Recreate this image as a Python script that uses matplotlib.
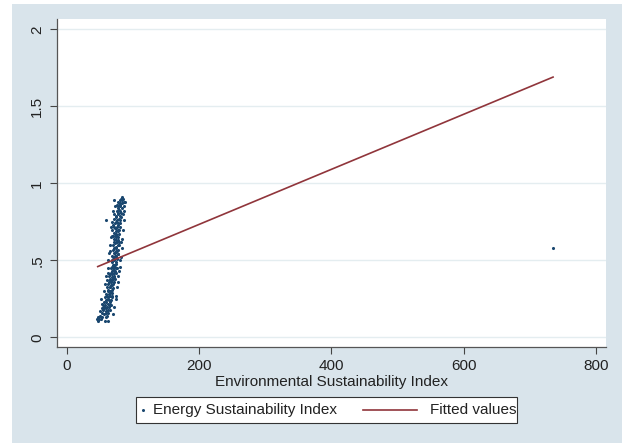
import matplotlib.pyplot as plt
from matplotlib.patches import Rectangle
from matplotlib.lines import Line2D

plt.rcParams['font.family'] = ['Liberation Sans', 'DejaVu Sans']

# scatter: Environmental Sustainability Index (x) vs Energy Sustainability Index (y)
esi_x = [47, 48, 49, 58, 62, 53, 55, 57, 59, 60, 61, 63, 64, 58, 62, 65, 60, 66, 63, 67,
         56, 61, 64, 68, 66, 62, 69, 65, 67, 70, 63, 68, 71, 66, 64, 69, 72, 67, 70, 73,
         68, 71, 74, 69, 72, 75, 70, 73, 76, 71, 74, 77, 72, 75, 78, 70, 73, 76, 79, 71,
         74, 77, 68, 72, 75, 78, 73, 76, 79, 70, 74, 77, 80, 72, 75, 78, 81, 76, 79, 82,
         77, 80, 83, 78, 81, 84, 85, 82, 86, 60,
         50, 52, 54, 57, 59, 61, 63, 65, 60, 64, 62, 66, 67, 65, 63, 68, 66, 69, 67, 70,
         65, 72, 68, 71, 69, 73, 70, 74, 72, 68, 75, 71, 73, 76, 70, 74, 77, 72, 75, 78,
         73, 76, 79, 74, 77, 80, 75, 78, 73, 76, 79, 74, 77, 80, 78, 81, 79, 83, 80, 84,
         76, 82, 81, 79, 78, 71, 69, 67, 66, 64, 61, 59, 57, 55, 53, 51, 46, 60, 58, 70,
         72, 74, 76, 75, 73, 70, 69, 67,
         54, 52, 56, 58, 60, 62, 63, 64, 66, 67, 68, 69, 71, 73, 72,
         70, 72, 74, 76, 78, 80, 82, 83, 84, 85, 86, 87, 88, 87, 85,
         75, 77, 79, 81, 82, 61, 63, 65, 67, 70,
         735]
ensi_y = [0.11, 0.13, 0.12, 0.11, 0.11, 0.16, 0.18, 0.15, 0.17, 0.19, 0.14, 0.16, 0.20, 0.21, 0.22, 0.23, 0.24, 0.18, 0.25, 0.21,
          0.20, 0.27, 0.28, 0.26, 0.30, 0.31, 0.29, 0.33, 0.34, 0.32, 0.35, 0.37, 0.36, 0.38, 0.40, 0.41, 0.39, 0.42, 0.44, 0.43,
          0.46, 0.47, 0.45, 0.49, 0.50, 0.48, 0.52, 0.53, 0.51, 0.55, 0.56, 0.54, 0.58, 0.59, 0.57, 0.60, 0.61, 0.62, 0.60, 0.64,
          0.65, 0.63, 0.66, 0.68, 0.67, 0.69, 0.71, 0.72, 0.70, 0.73, 0.75, 0.74, 0.76, 0.77, 0.78, 0.80, 0.79, 0.82, 0.83, 0.81,
          0.85, 0.86, 0.84, 0.88, 0.87, 0.89, 0.90, 0.90, 0.88, 0.76,
          0.14, 0.12, 0.13, 0.19, 0.13, 0.20, 0.18, 0.21, 0.23, 0.24, 0.26, 0.27, 0.24, 0.29, 0.30, 0.31, 0.33, 0.34, 0.36, 0.38,
          0.37, 0.40, 0.39, 0.42, 0.43, 0.46, 0.47, 0.49, 0.47, 0.50, 0.52, 0.51, 0.55, 0.56, 0.57, 0.58, 0.60, 0.62, 0.63, 0.65,
          0.66, 0.66, 0.67, 0.69, 0.70, 0.72, 0.71, 0.73, 0.74, 0.76, 0.77, 0.79, 0.81, 0.82, 0.84, 0.85, 0.86, 0.87, 0.89, 0.91,
          0.86, 0.78, 0.74, 0.62, 0.54, 0.45, 0.53, 0.45, 0.41, 0.36, 0.33, 0.28, 0.23, 0.21, 0.19, 0.17, 0.12, 0.16, 0.26, 0.66,
          0.72, 0.53, 0.45, 0.42, 0.38, 0.35, 0.27, 0.30,
          0.22, 0.25, 0.30, 0.35, 0.40, 0.45, 0.50, 0.55, 0.60, 0.65, 0.70, 0.75, 0.80, 0.85, 0.89,
          0.15, 0.20, 0.27, 0.33, 0.40, 0.46, 0.52, 0.58, 0.64, 0.70, 0.76, 0.82, 0.88, 0.85, 0.80,
          0.25, 0.36, 0.43, 0.50, 0.62, 0.37, 0.42, 0.56, 0.72, 0.82,
          0.58]

# fitted values line (endpoints at min and max x)
fit_x = [47, 735]
fit_y = [0.46, 1.69]

xticks = [0, 200, 400, 600, 800]
yticks = [0, 0.5, 1, 1.5, 2]
ylabels = ["0", ".5", "1", "1.5", "2"]

navy = "#1a476f"
maroon = "#90353b"
bg = "#d9e4eb"

W, H = 622, 443
fig = plt.figure(figsize=(W / 100, H / 100), dpi=100, facecolor="white")
fig.patches.append(Rectangle((12 / W, 0), 1 - 12 / W, 1 - 4 / H,
                             transform=fig.transFigure, facecolor=bg,
                             edgecolor="none", zorder=-10))

ax = fig.add_axes([56.7 / W, 1 - 346.7 / H, (606 - 56.7) / W, (346.7 - 19.3) / H])
ax.set_facecolor("white")

ax.scatter(esi_x, ensi_y, s=5, color=navy, linewidths=0, zorder=3)
ax.plot(fit_x, fit_y, color=maroon, lw=1.2, zorder=4)

ax.set_xlim(-15, 815)
ax.set_ylim(-0.06, 2.065)
ax.set_xticks(xticks)
ax.set_yticks(yticks)
ax.set_yticklabels(ylabels, rotation=90, va="center")
ax.tick_params(axis="both", labelsize=11, length=5, width=0.8, color="#444444",
               pad=4, labelcolor="#222222")
ax.grid(axis="y", color="#e4edf0", lw=1)
ax.set_axisbelow(True)
for s in ["top", "right"]:
    ax.spines[s].set_visible(False)
for s in ["left", "bottom"]:
    ax.spines[s].set_color("#555555")
    ax.spines[s].set_linewidth(0.9)
ax.set_xlabel("Environmental Sustainability Index", fontsize=11, labelpad=1, color="#222222")

# legend drawn in figure pixel space
def fx(px):
    return px / W

def fy(py):
    return 1 - py / H

fig.patches.append(Rectangle((fx(136), fy(423)), fx(517) - fx(136), fy(397) - fy(423),
                             transform=fig.transFigure, facecolor="white",
                             edgecolor="#333333", lw=0.8))
fig.add_artist(Line2D([fx(143)], [fy(410)], marker="o", markersize=2.2,
                      color=navy, markeredgewidth=0, transform=fig.transFigure))
fig.text(fx(153), fy(410), "Energy Sustainability Index", fontsize=11,
         va="center", ha="left", color="#222222")
fig.add_artist(Line2D([fx(363), fx(417)], [fy(410), fy(410)], color=maroon, lw=1.2,
                      transform=fig.transFigure))
fig.text(fx(430), fy(410), "Fitted values", fontsize=11, va="center", ha="left",
         color="#222222")

fig.savefig("out.png", dpi=100, facecolor=fig.get_facecolor())
